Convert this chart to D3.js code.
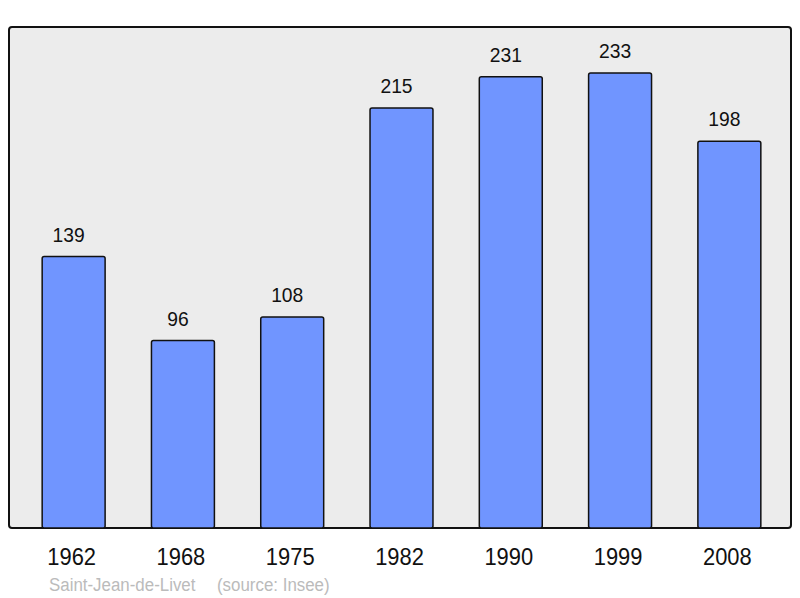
<!DOCTYPE html>
<html><head><meta charset="utf-8">
<script src="https://cdn.jsdelivr.net/npm/d3@7"></script>
<style>body{margin:0;background:#fff}svg{display:block}</style>
</head><body>
<script>
const years = ["1962","1968","1975","1982","1990","1999","2008"];
const population = [139, 96, 108, 215, 231, 233, 198];
const footerTitle = "Saint-Jean-de-Livet";
const footerSource = "(source: Insee)";

const W = 800, H = 598;
const FONT = "'Liberation Sans', Arial, sans-serif";
const svg = d3.select("body").append("svg").attr("width", W).attr("height", H)
  .style("font-family", FONT);

svg.append("rect").attr("x", 9).attr("y", 27).attr("width", 782).attr("height", 501)
  .attr("rx", 3).attr("fill", "#ececec").attr("stroke", "#111").attr("stroke-width", 2);

const x = d3.scaleBand().domain(years).range([19, 784]).paddingInner(0.424).paddingOuter(0.212);
const y = d3.scaleLinear().domain([0, 256]).range([528, 28]);

const g = svg.append("g");
g.selectAll("rect.bar").data(years).join("rect").attr("class", "bar")
  .attr("x", d => x(d)).attr("width", x.bandwidth())
  .attr("y", (d, i) => y(population[i])).attr("height", (d, i) => y(0) - y(population[i]))
  .attr("rx", 2).attr("fill", "#7095ff").attr("stroke", "#111").attr("stroke-width", 1.5);

g.selectAll("text.val").data(years).join("text").attr("class", "val")
  .attr("transform", (d, i) => `translate(${x(d) + x.bandwidth() / 2 - 5},${y(population[i]) - 15}) scale(1,1.05)`)
  .attr("text-anchor", "middle").attr("font-size", 19.3).attr("fill", "#111")
  .text((d, i) => population[i]);

const xAxis = d3.axisBottom(x).tickSize(0).tickPadding(0);
const ax = svg.append("g").attr("transform", "translate(-2,565)").call(xAxis);
ax.select(".domain").remove();
ax.selectAll("text").attr("font-size", 21.9).attr("fill", "#111")
  .attr("font-family", FONT).attr("dy", 0).attr("y", 0).attr("transform", "scale(1,1.08)");

svg.append("text").attr("transform", "translate(49,591) scale(1,1.05)").attr("font-size", 16.9).attr("fill", "#bbb").text(footerTitle);
svg.append("text").attr("transform", "translate(217,591) scale(1,1.05)").attr("font-size", 16.9).attr("fill", "#bbb").text(footerSource);
</script>
</body></html>
